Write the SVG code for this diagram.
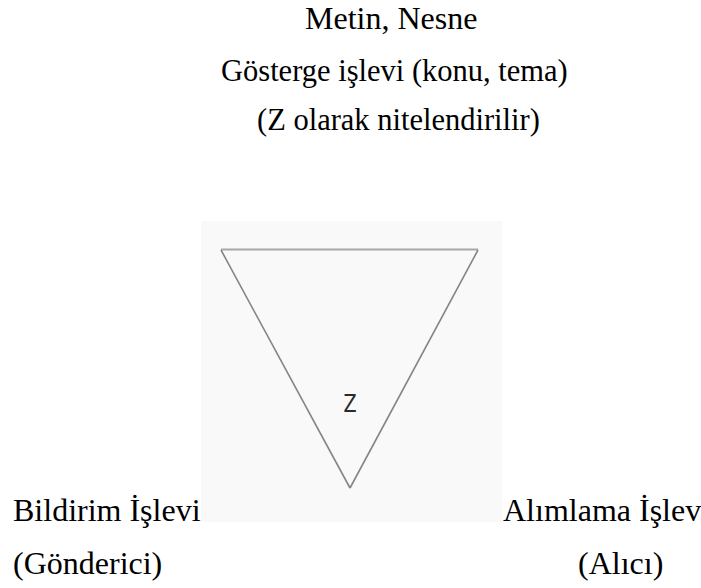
<svg xmlns="http://www.w3.org/2000/svg" width="701" height="588" viewBox="0 0 701 588">
<style>
.t{font-family:'Liberation Serif','Times New Roman',serif;font-size:32px;fill:#000}
.s{font-size:30.5px}
.edge{stroke:#858585;stroke-width:1.6;fill:none}
.top{stroke:#a8a8a8;stroke-width:2.2;fill:none}
.z{font-family:'DejaVu Sans',sans-serif;font-size:24px;fill:#2a2a2a}
</style>
<rect width="701" height="588" fill="#fff"/>
<g id="picture">
<rect x="201" y="221" width="301" height="301" fill="#f9f9f9"/>
</g>
<g id="connectors">
<line class="top" x1="221" y1="249.5" x2="478" y2="249.5"/>
<line class="edge" x1="221" y1="250" x2="350" y2="488"/>
<line class="edge" x1="478" y1="250" x2="350" y2="488"/>
</g>
<g id="node-top">
<text class="t" x="305" y="29">Metin, Nesne</text>
<text class="t s" x="221" y="81">Gösterge işlevi (konu, tema)</text>
<text class="t s" x="257" y="130">(Z olarak nitelendirilir)</text>
</g>
<g id="node-center">
<text class="z" transform="translate(350,412) scale(0.8,1)" text-anchor="middle">Z</text>
</g>
<g id="node-left">
<text class="t" x="13" y="521">Bildirim İşlevi</text>
<text class="t" x="13" y="574">(Gönderici)</text>
</g>
<g id="node-right">
<text class="t" x="503" y="521">Alımlama İşlev</text>
<text class="t" x="578" y="574">(Alıcı)</text>
</g>
</svg>
